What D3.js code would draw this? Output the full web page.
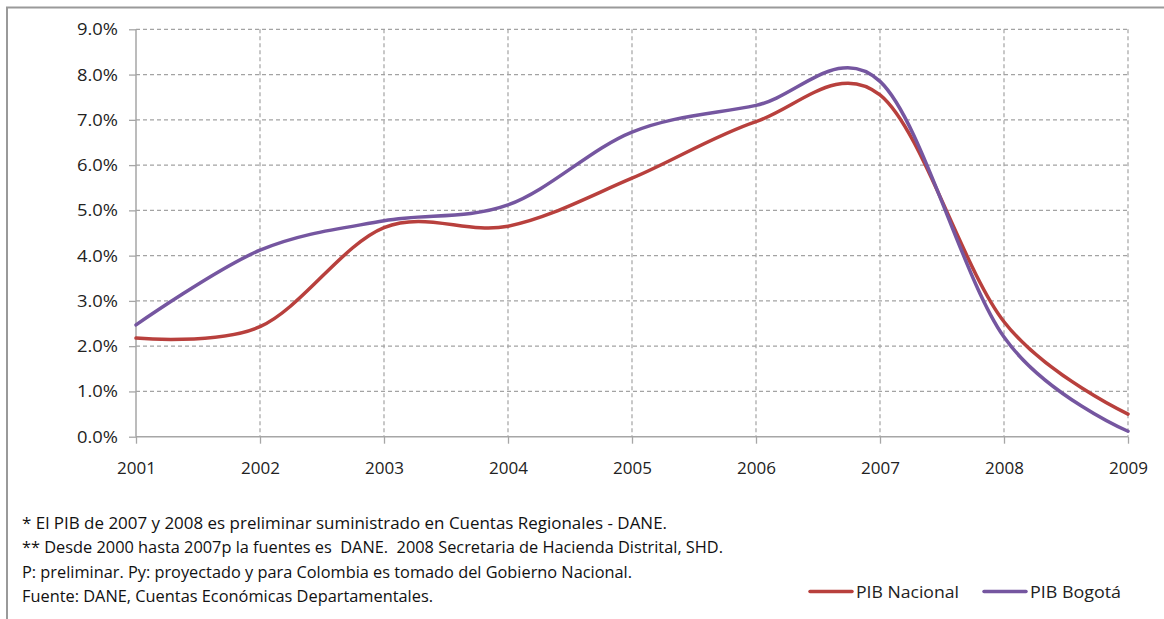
<!DOCTYPE html>
<html>
<head>
<meta charset="utf-8">
<script src="https://cdn.jsdelivr.net/npm/d3@7/dist/d3.min.js"></script>
<style>
  html, body { margin: 0; padding: 0; background: #fff; }
  svg { display: block; }
</style>
</head>
<body>
<svg id="chart" width="1164" height="619"></svg>
<script>
// ---- data ----
const years = [2001, 2002, 2003, 2004, 2005, 2006, 2007, 2008, 2009];
const pibNacional = [2.18, 2.43, 4.62, 4.65, 5.71, 6.96, 7.55, 2.54, 0.50];
const pibBogota   = [2.47, 4.12, 4.77, 5.12, 6.73, 7.32, 7.85, 2.20, 0.12];
const yTicks = [0, 1, 2, 3, 4, 5, 6, 7, 8, 9];
const seriesNames = ["PIB Nacional", "PIB Bogotá"];
const notes = [
  "* El PIB de 2007 y 2008 es preliminar suministrado en Cuentas Regionales - DANE.",
  "** Desde 2000 hasta 2007p la fuentes es  DANE.  2008 Secretaria de Hacienda Distrital, SHD.",
  "P: preliminar. Py: proyectado y para Colombia es tomado del Gobierno Nacional.",
  "Fuente: DANE, Cuentas Económicas Departamentales."
];

// ---- layout ----
const svg = d3.select("#chart");
const pLeft = 136, pRight = 1128, pTop = 29.3, pBottom = 436.7;
const font = "'Open Sans', 'Noto Sans', sans-serif";
const narrowFont = "'Liberation Sans Narrow', 'Open Sans', sans-serif";
const colors = ["#B8403D", "#7556A0"];

// outer frame (top and left edges visible)
svg.append("path")
  .attr("d", "M7,625 L7,7.5 L1170,7.5")
  .attr("fill", "none").attr("stroke", "#9a9a9a").attr("stroke-width", 2);

const x = d3.scaleLinear().domain([2001, 2009]).range([pLeft, pRight]);
const y = d3.scaleLinear().domain([0, 9]).range([pBottom, pTop]);

// grid
const grid = svg.append("g");
grid.selectAll("line.h").data(yTicks.filter(d => d > 0)).join("line")
  .attr("x1", pLeft).attr("x2", pRight)
  .attr("y1", d => y(d)).attr("y2", d => y(d))
  .attr("stroke", "#a3a3a3").attr("stroke-width", 1.2).attr("stroke-dasharray", "4,3");
grid.selectAll("line.v").data(years.slice(1)).join("line")
  .attr("x1", d => x(d)).attr("x2", d => x(d))
  .attr("y1", pTop).attr("y2", pBottom)
  .attr("stroke", "#a3a3a3").attr("stroke-width", 1.2).attr("stroke-dasharray", "4,3");

// axes
const yAxis = d3.axisLeft(y).tickValues(yTicks).tickSize(7).tickPadding(11)
  .tickFormat(d => d.toFixed(1) + "%");
const gy = svg.append("g").attr("transform", `translate(${pLeft},0)`).call(yAxis);
const xAxis = d3.axisBottom(x).tickValues(years).tickSize(7).tickPadding(18)
  .tickFormat(d3.format("d"));
const gx = svg.append("g").attr("transform", `translate(0,${pBottom})`).call(xAxis);
[gx, gy].forEach(g => {
  g.select(".domain").attr("stroke", "#a6a6a6").attr("stroke-width", 1.5);
  g.selectAll(".tick line").attr("stroke", "#a6a6a6").attr("stroke-width", 1.3);
  g.selectAll(".tick text").attr("fill", "#222").style("font-family", font).style("font-size", "17px");
});
gy.selectAll(".tick text").attr("textLength", 41).attr("lengthAdjust", "spacingAndGlyphs");
gy.select(".domain").attr("d", `M0,${pTop}V${pBottom}`);
gx.select(".domain").attr("d", `M${pLeft},0H${pRight}`);

// lines
const line = d3.line().x((d, i) => x(years[i])).y(d => y(d)).curve(d3.curveCatmullRom.alpha(0));
[pibNacional, pibBogota].forEach((s, i) => {
  svg.append("path").datum(s)
    .attr("d", line)
    .attr("fill", "none").attr("stroke", colors[i]).attr("stroke-width", 3.5)
    .attr("stroke-linecap", "round");
});

// notes
const noteWidths = [645, 701, 610, 411];
svg.append("g").selectAll("text").data(notes).join("text")
  .attr("x", 22).attr("y", (d, i) => 529 + i * 24.3)
  .attr("textLength", (d, i) => noteWidths[i]).attr("lengthAdjust", "spacingAndGlyphs")
  .style("white-space", "pre")
  .style("font-family", narrowFont).style("font-size", "16.5px").attr("fill", "#111")
  .text(d => d);

// legend
const legX = [810, 984];
const legW = [103, 91];
const legend = svg.append("g");
seriesNames.forEach((n, i) => {
  legend.append("line")
    .attr("x1", legX[i]).attr("x2", legX[i] + 42)
    .attr("y1", 591.5).attr("y2", 591.5)
    .attr("stroke", colors[i]).attr("stroke-width", 3.5).attr("stroke-linecap", "round");
  legend.append("text")
    .attr("x", legX[i] + 46).attr("y", 597.5)
    .attr("textLength", legW[i]).attr("lengthAdjust", "spacingAndGlyphs")
    .style("font-family", font).style("font-size", "17px").attr("fill", "#222")
    .text(n);
});
</script>
</body>
</html>
